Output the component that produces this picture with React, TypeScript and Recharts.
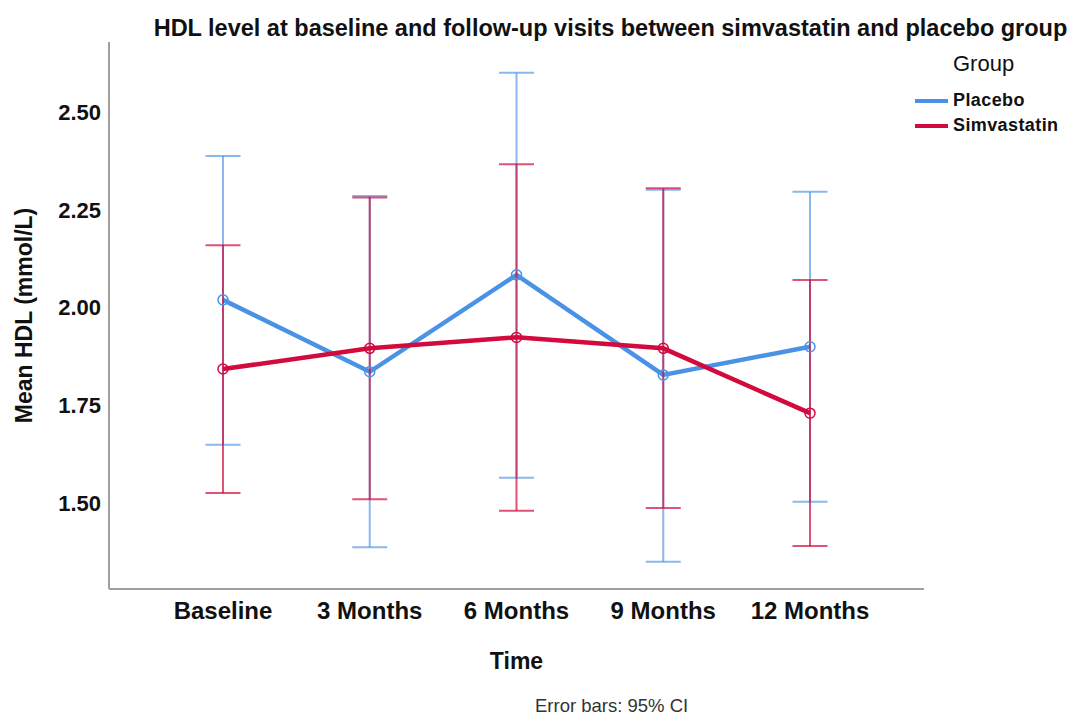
import { LineChart, Line, XAxis, YAxis, ErrorBar } from 'recharts';

const times = ['Baseline', '3 Months', '6 Months', '9 Months', '12 Months'];

const placeboMean = [2.02, 1.836, 2.084, 1.828, 1.9];
const placeboLow = [1.649, 1.387, 1.565, 1.35, 1.503];
const placeboHigh = [2.388, 2.286, 2.601, 2.302, 2.297];

const simvaMean = [1.843, 1.896, 1.924, 1.896, 1.73];
const simvaLow = [1.526, 1.51, 1.48, 1.487, 1.39];
const simvaHigh = [2.16, 2.282, 2.367, 2.306, 2.071];

const yTicks = [1.5, 1.75, 2.0, 2.25, 2.5];

const BLUE = '#4a92e6';
const RED = '#d20a3d';
const FONT = '"Liberation Sans", Arial, sans-serif';

const data = times.map((t, i) => ({
  time: t,
  placebo: placeboMean[i],
  placeboErr: [placeboMean[i] - placeboLow[i], placeboHigh[i] - placeboMean[i]],
  simva: simvaMean[i],
  simvaErr: [simvaMean[i] - simvaLow[i], simvaHigh[i] - simvaMean[i]],
}));

const groups = [
  { name: 'Placebo', color: BLUE },
  { name: 'Simvastatin', color: RED },
];

function GroupLegend() {
  return (
    <div style={{ position: 'absolute', left: 915, top: 51, fontFamily: FONT, color: '#111' }}>
      <div style={{ fontSize: 22, marginLeft: 38, marginBottom: 11 }}>Group</div>
      {groups.map((g) => (
        <div key={g.name} style={{ display: 'flex', alignItems: 'center', height: 25 }}>
          <div style={{ width: 33, height: 4, background: g.color, marginRight: 5 }} />
          <span style={{ fontSize: 18, fontWeight: 'bold', letterSpacing: 0.4 }}>{g.name}</span>
        </div>
      ))}
    </div>
  );
}

export default function App() {
  return (
    <div style={{ position: 'absolute', left: 0, top: 0, width: 1081, height: 714, background: '#fff', fontFamily: FONT }}>
      <div
        style={{
          position: 'absolute',
          top: 15,
          left: 0,
          width: 1221,
          textAlign: 'center',
          fontSize: 23.5,
          fontWeight: 'bold',
          color: '#111',
          whiteSpace: 'nowrap',
        }}
      >
        HDL level at baseline and follow-up visits between simvastatin and placebo group
      </div>
      <LineChart
        width={1081}
        height={714}
        data={data}
        margin={{ top: 42, right: 157, bottom: 95, left: 0 }}
      >
        <XAxis
          dataKey="time"
          padding={{ left: 114, right: 114 }}
          height={30}
          tickLine={false}
          axisLine={{ stroke: '#a0a0a0', strokeWidth: 2 }}
          tick={{ fill: '#111', fontSize: 24, fontWeight: 'bold', fontFamily: FONT }}
          tickMargin={7}
          label={{ value: 'Time', position: 'insideBottom', offset: -50, fill: '#111', fontSize: 23, fontWeight: 'bold', fontFamily: FONT }}
        />
        <YAxis
          width={109}
          domain={[1.28, 2.68]}
          ticks={yTicks}
          allowDataOverflow
          tickFormatter={(v: number) => v.toFixed(2)}
          tickLine={false}
          axisLine={{ stroke: '#a0a0a0', strokeWidth: 2 }}
          tick={{ fill: '#111', fontSize: 22, fontWeight: 'bold', fontFamily: FONT }}
          label={{ value: 'Mean HDL (mmol/L)', angle: -90, position: 'insideLeft', offset: 24, fill: '#111', fontSize: 23, fontWeight: 'bold', fontFamily: FONT, style: { textAnchor: 'middle' } }}
        />
        <Line
          type="linear"
          dataKey="placebo"
          name="Placebo"
          stroke={BLUE}
          strokeWidth={4.5}
          dot={{ r: 5, fill: 'none', stroke: BLUE, strokeWidth: 1.5 }}
          activeDot={false}
          isAnimationActive={false}
        >
          <ErrorBar dataKey="placeboErr" direction="y" width={17.5} stroke={BLUE} strokeOpacity={0.65} strokeWidth={2} />
        </Line>
        <Line
          type="linear"
          dataKey="simva"
          name="Simvastatin"
          stroke={RED}
          strokeWidth={4.5}
          dot={{ r: 5, fill: 'none', stroke: RED, strokeWidth: 1.5 }}
          activeDot={false}
          isAnimationActive={false}
        >
          <ErrorBar dataKey="simvaErr" direction="y" width={17.5} stroke={RED} strokeOpacity={0.7} strokeWidth={2} />
        </Line>
      </LineChart>
      <GroupLegend />
      <div style={{ position: 'absolute', left: 535, top: 695, fontSize: 18.5, color: '#333' }}>Error bars: 95% CI</div>
    </div>
  );
}
